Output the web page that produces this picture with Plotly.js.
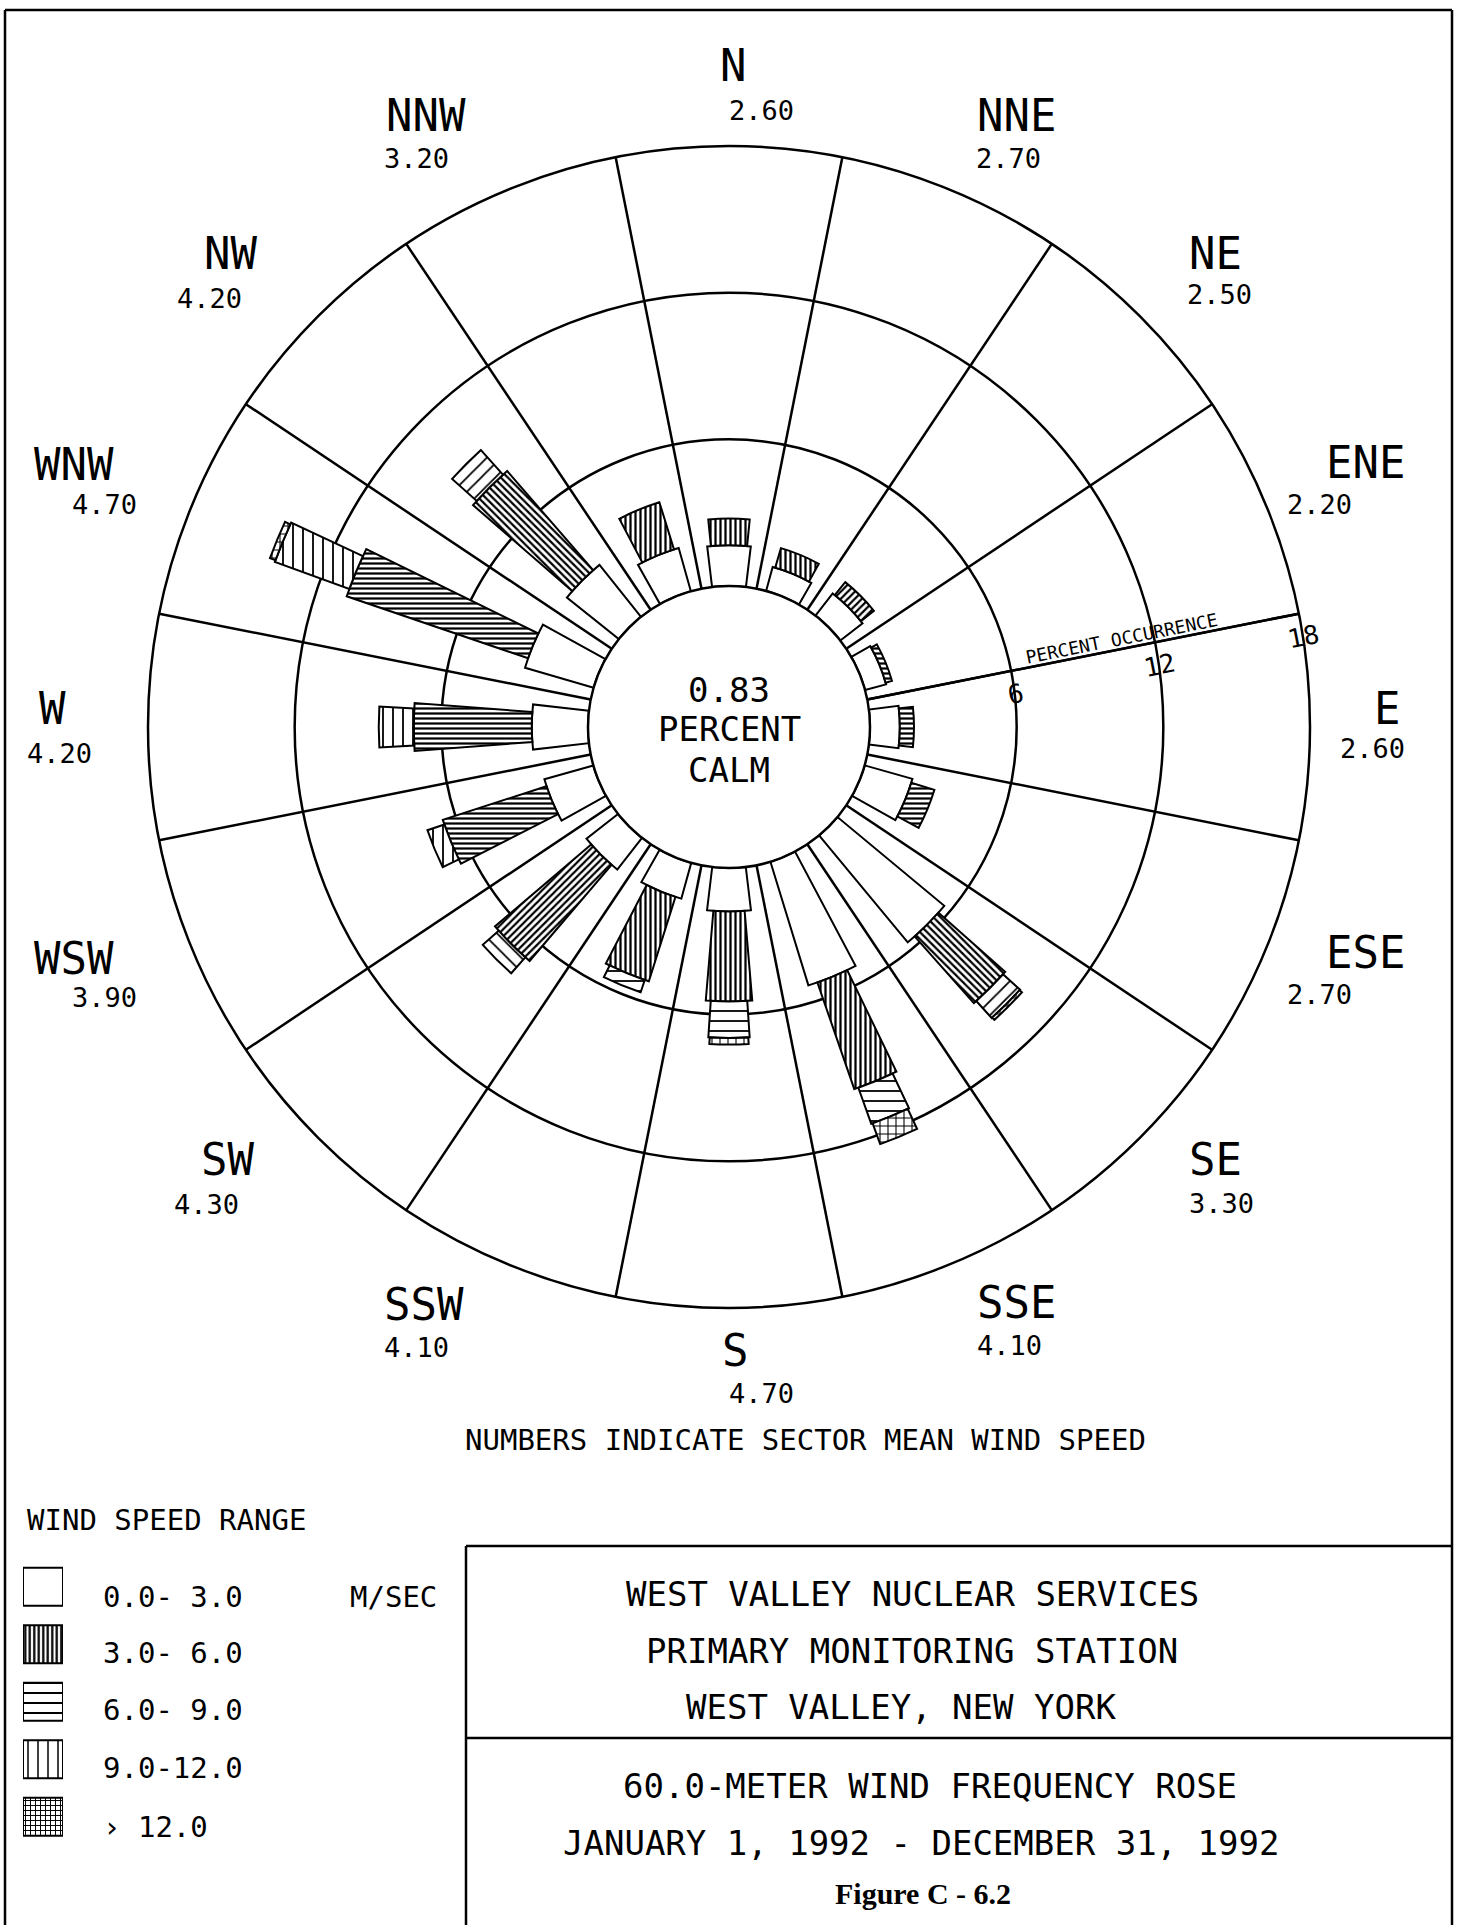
<!DOCTYPE html>
<html>
<head>
<meta charset="utf-8">
<script src="https://cdn.plot.ly/plotly-3.0.1.min.js"></script>
<style>
  html, body { margin: 0; padding: 0; background: #fff; }
  #chart { width: 1458px; height: 1925px; }
</style>
</head>
<body>
<div id="chart"></div>
<script>
// ---------------- DATA ----------------
const directions = ['N','NNE','NE','ENE','E','ESE','SE','SSE','S','SSW','SW','WSW','W','WNW','NW','NNW'];
const dirAngles  = [0,22.5,45,67.5,90,112.5,135,157.5,180,202.5,225,247.5,270,292.5,315,337.5];
const sectorEdges = [11.25,33.75,56.25,78.75,101.25,123.75,146.25,168.75,191.25,213.75,236.25,258.75,281.25,303.75,326.25,348.75];
const meanSpeed  = ['2.60','2.70','2.50','2.20','2.60','2.70','3.30','4.10','4.70','4.10','4.30','3.90','4.20','4.70','4.20','3.20'];

// percent occurrence per speed class (read from the rose)
const pct0to3   = [1.67,1.02,1.15,0.89,1.22,2.03,5.68,5.29,1.78,1.52,1.64,2.08,2.30,2.92,2.72,1.84];
const pct3to6   = [1.09,0.83,0.68,0.27,0.58,0.99,3.65,4.62,3.68,3.62,5.17,4.46,4.83,7.84,5.37,2.02];
const pct6to9   = [0,0,0,0,0,0,0.94,1.57,1.49,0.53,0.87,0.73,1.43,3.24,1.35,0];
const pct9to12  = [0,0,0,0,0,0,0.13,0.90,0.27,0,0,0,0,0.24,0,0];
const pctOver12 = [0,0,0,0,0,0,0,0,0,0,0,0,0,0,0,0];

const speedClasses = ['0.0- 3.0','3.0- 6.0','6.0- 9.0','9.0-12.0','\u203A 12.0'];
const radialTicks  = [6,12,18];
const calmPercent  = '0.83';

// ---------------- GEOMETRY / STYLE ----------------
const W = 1458, H = 1925;
const CX = 729, CY = 727, R_OUT = 581, R_HOLE = 141;
const R_MAX = 18;
const PXU = (R_OUT - R_HOLE) / R_MAX;
const BAR_HALF = 19.5;
const MONO = 'DejaVu Sans Mono';
const px = x => x / W;
const py = y => 1 - y / H;

function alongShape(a) {
  let m = ((a % 180) + 180) % 180;
  const table = {0:'|',45:'/',90:'-',135:'\\',180:'|'};
  let q = m / 45;
  let k;
  if (Math.abs(q - Math.round(q)) < 1e-9) k = Math.round(q);
  else {
    const lo = Math.floor(q), hi = Math.ceil(q);
    k = (lo % 2 === 0) ? lo : hi;
  }
  return table[k * 45];
}
const perpShape = a => alongShape(a + 90);

const classData = [pct0to3, pct3to6, pct6to9, pct9to12, pctOver12];
const classPattern = [
  () => ({shape: '', fgcolor: 'black', bgcolor: 'white'}),
  () => ({shape: dirAngles.map(alongShape), size: 5, solidity: 0.45, fgcolor: 'black', bgcolor: 'white'}),
  () => ({shape: dirAngles.map(perpShape), size: 10, solidity: 0.18, fgcolor: 'black', bgcolor: 'white'}),
  () => ({shape: '+', size: 8, solidity: 0.25, fgcolor: 'black', bgcolor: 'white'}),
  () => ({shape: '+', size: 4, solidity: 0.35, fgcolor: 'black', bgcolor: 'white'})
];

let cum = directions.map(() => 0);
const traces = classData.map((vals, k) => {
  const widths = vals.map((v, i) => {
    const mid = R_HOLE + PXU * (cum[i] + v / 2);
    return 2 * Math.atan(BAR_HALF / mid) * 180 / Math.PI;
  });
  cum = cum.map((c, i) => c + vals[i]);
  return {
    type: 'barpolar',
    name: speedClasses[k],
    r: vals,
    theta: dirAngles,
    width: widths,
    marker: {color: 'white', line: {color: 'black', width: 2}, pattern: classPattern[k]()},
    showlegend: false,
    hoverinfo: 'skip'
  };
});

// legend swatches (small cartesian strip)
const legendSwatchShape = ['', '|', '-', '|', '+'];
const legendSwatchSize  = [8, 4.5, 10, 10, 5];
const legendSwatchSolid = [0.3, 0.5, 0.2, 0.15, 0.35];
traces.push({
  type: 'bar', orientation: 'h',
  x: speedClasses.map(() => 1),
  y: speedClasses.map((s, i) => i),
  width: 0.66,
  xaxis: 'x2', yaxis: 'y2',
  marker: {color: 'white', line: {color: 'black', width: 2},
           pattern: {shape: legendSwatchShape, size: legendSwatchSize, solidity: legendSwatchSolid, fgcolor: 'black', bgcolor: 'white'}},
  showlegend: false, hoverinfo: 'skip'
});

// ---------------- TEXT POSITIONS (px) ----------------
const dirLabelPos = [[733,66],[1016,115],[1215,254],[1365,462],[1387,708],[1365,953],[1215,1159],[1016,1302],[736,1350],[424,1304],[227,1159],[74,958],[52,708],[74,465],[230,254],[426,116]];
const dirValuePos = [[761,110],[1008,159],[1219,295],[1319,504],[1372,748],[1319,995],[1221,1203],[1009,1345],[761,1393],[417,1347],[206,1204],[104,997],[59,754],[104,504],[209,298],[416,159]];
const legendRowY = [1597,1653,1710,1768,1827];

const ann = [];
const mono = (s) => ({family: MONO, size: s, color: 'black'});
function addText(text, x, y, font, extra) {
  ann.push(Object.assign({x: px(x), y: py(y), xref: 'paper', yref: 'paper', text: text, showarrow: false,
    font: font, xanchor: 'center', yanchor: 'middle'}, extra || {}));
}
directions.forEach((d, i) => {
  addText(d, dirLabelPos[i][0], dirLabelPos[i][1], mono(44));
  addText(meanSpeed[i], dirValuePos[i][0], dirValuePos[i][1], mono(27));
});
addText(calmPercent, 729, 690, mono(34));
addText('PERCENT', 729, 729, mono(34));
addText('CALM', 729, 770, mono(34));
addText('PERCENT OCCURRENCE', 1121, 638, mono(18), {textangle: -11.25});
addText('NUMBERS INDICATE SECTOR MEAN WIND SPEED', 805, 1440, mono(29));
addText('WIND SPEED RANGE', 25, 1520, mono(29), {xanchor: 'left'});
speedClasses.forEach((s, i) => addText(s, 101, legendRowY[i], mono(29), {xanchor: 'left'}));
addText('M/SEC', 348, legendRowY[0], mono(29), {xanchor: 'left'});
const titleLines = [
  ['WEST VALLEY NUCLEAR SERVICES', 912, 1594],
  ['PRIMARY MONITORING STATION', 912, 1651],
  ['WEST VALLEY, NEW YORK', 901, 1707],
  ['60.0-METER WIND FREQUENCY ROSE', 930, 1786],
  ['JANUARY 1, 1992 - DECEMBER 31, 1992', 921, 1843]
];
titleLines.forEach(t => addText(t[0], t[1], t[2], mono(34)));
addText('<b>Figure C - 6.2</b>', 923, 1893, {family: 'Liberation Serif', size: 30, color: 'black'});

const lineStyle = {color: 'black', width: 2.5};
const shapes = [
  {type: 'line', xref: 'paper', yref: 'paper', x0: px(5), x1: px(5), y0: py(10), y1: -0.01, line: lineStyle},
  {type: 'line', xref: 'paper', yref: 'paper', x0: px(5), x1: px(1452), y0: py(10), y1: py(10), line: lineStyle},
  {type: 'line', xref: 'paper', yref: 'paper', x0: px(1452), x1: px(1452), y0: py(10), y1: -0.01, line: lineStyle},
  {type: 'line', xref: 'paper', yref: 'paper', x0: px(466), x1: px(466), y0: py(1546), y1: -0.01, line: lineStyle},
  {type: 'line', xref: 'paper', yref: 'paper', x0: px(466), x1: px(1452), y0: py(1546), y1: py(1546), line: lineStyle},
  {type: 'line', xref: 'paper', yref: 'paper', x0: px(466), x1: px(1452), y0: py(1738), y1: py(1738), line: lineStyle}
];

const layout = {
  width: W, height: H,
  margin: {l: 0, r: 0, t: 0, b: 0, pad: 0},
  paper_bgcolor: 'white',
  showlegend: false,
  font: {family: MONO, color: 'black'},
  polar: {
    domain: {x: [px(CX - R_OUT), px(CX + R_OUT)], y: [py(CY + R_OUT), py(CY - R_OUT)]},
    hole: R_HOLE / R_OUT,
    bgcolor: 'white',
    barmode: 'stack',
    radialaxis: {
      range: [0, R_MAX],
      tickmode: 'array',
      tickvals: [0].concat(radialTicks),
      ticktext: [''].concat(radialTicks.map(String)),
      showgrid: true, gridcolor: 'black', gridwidth: 2.5,
      showline: true, linecolor: 'black', linewidth: 2.5,
      angle: 11.25, side: 'clockwise', ticks: '',
      tickfont: {family: MONO, size: 26, color: 'black'}
    },
    angularaxis: {
      rotation: 90, direction: 'clockwise', thetaunit: 'degrees',
      tickmode: 'array', tickvals: sectorEdges,
      showticklabels: false, ticks: '',
      showgrid: true, gridcolor: 'black', gridwidth: 2.5,
      showline: true, linecolor: 'black', linewidth: 2.5
    }
  },
  xaxis2: {domain: [px(23), px(63)], range: [0, 1], visible: false, fixedrange: true, anchor: 'y2'},
  yaxis2: {domain: [py(1845.5), py(1558)], range: [4.5, -0.5], visible: false, fixedrange: true, anchor: 'x2'},
  annotations: ann,
  shapes: shapes
};

Plotly.newPlot('chart', traces, layout, {staticPlot: true, displayModeBar: false});
</script>
</body>
</html>
